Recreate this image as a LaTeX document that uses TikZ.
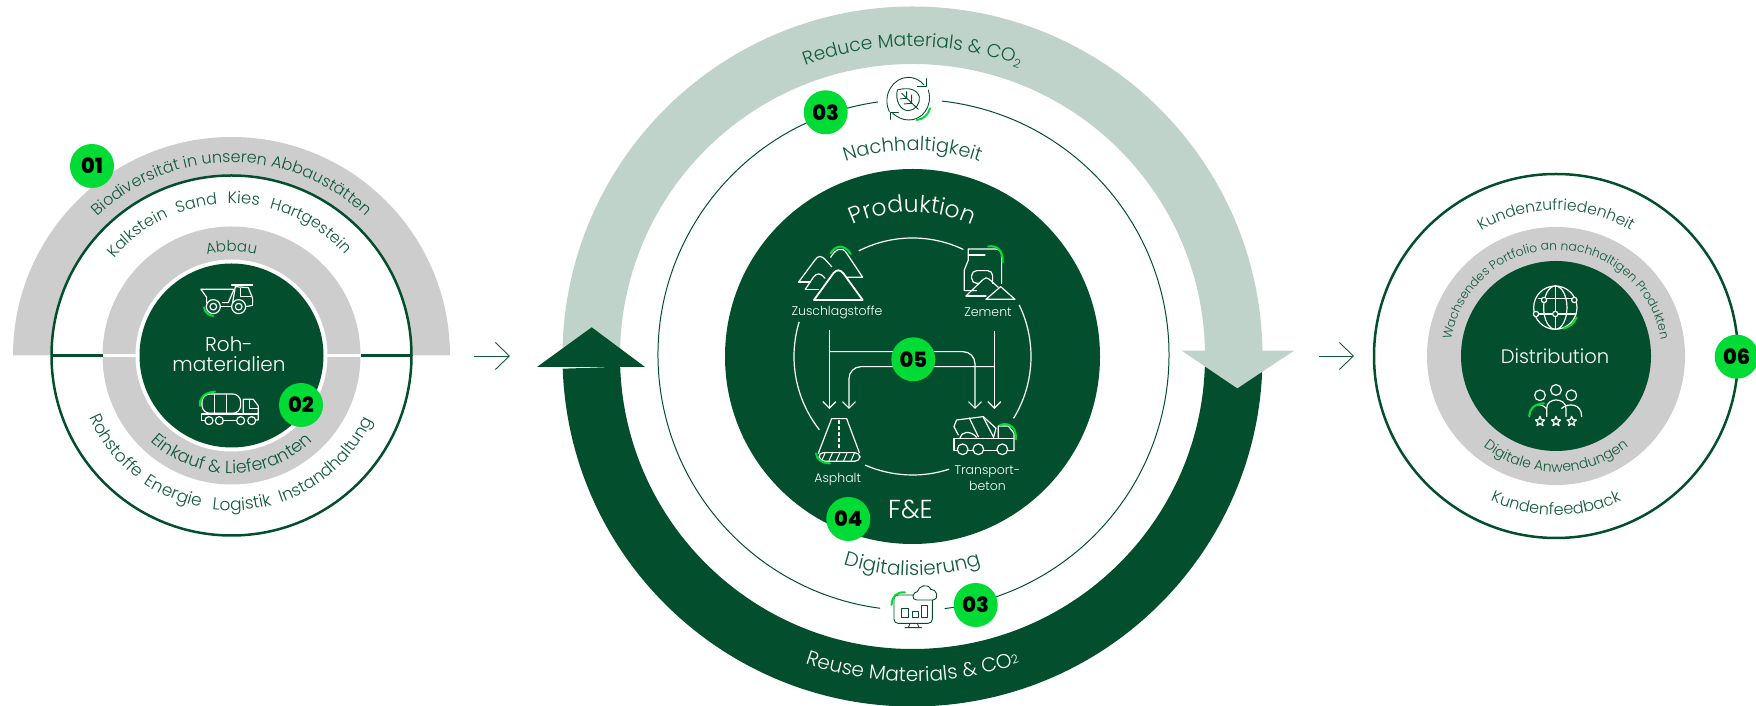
\documentclass[tikz,border=0pt]{standalone}
\usepackage{fontspec}
\setmainfont{Poppins Light}
\newfontfamily\badgefont{Poppins ExtraBold}
\usetikzlibrary{arrows.meta,calc,decorations.text}
\definecolor{dgreen}{HTML}{034F2D}
\definecolor{tgreen}{HTML}{0F5A3B}
\definecolor{lgreen}{HTML}{BFD3CA}
\definecolor{grayb}{HTML}{CDCDCD}
\definecolor{bgreen}{HTML}{00DB35}
\tikzset{
  badge/.style={circle, fill=bgreen, inner sep=0pt, minimum size=44pt, font=\badgefont\fontsize{21}{21}\selectfont},
  whitetxt/.style={text=white, align=center, inner sep=0pt},
  icon/.style={draw=white, line width=1.2pt, line cap=round, line join=round},
  iconfine/.style={draw=dgreen, line width=.9pt, line cap=round, line join=round},
  spark/.style={draw=bgreen, line width=2pt, line cap=round},
  flow/.style={draw=white, line width=1.2pt, -{Straight Barb[length=6.5pt,width=13pt]}},
  between/.style={draw=tgreen, line width=.9pt, -{Straight Barb[length=14pt,width=27pt]}}
}
% text on the upper side of a circle: colour, centre, radius, angle, size, text
\newcommand{\toptext}[6][tgreen]{\path[decorate, decoration={text along path, text align=center, text color=#1,
    text={|\fontsize{#5}{#5}\selectfont|#6}}] ($(#2)+(#4+100:#3)$) arc[start angle=#4+100, end angle=#4-100, radius=#3];}
% text on the lower side of a circle
\newcommand{\bottext}[6][tgreen]{\path[decorate, decoration={text along path, text align=center, text color=#1,
    text={|\fontsize{#5}{#5}\selectfont|#6}}] ($(#2)+(#4-100:#3)$) arc[start angle=#4-100, end angle=#4+100, radius=#3];}
\begin{document}
\begin{tikzpicture}[x=1pt, y=1pt]
  \useasboundingbox (0, 0) rectangle (1756, 706);
  \coordinate (roh) at (231.5, 350.5);
  \coordinate (prod) at (912.5, 349.5);
  \coordinate (thin) at (913.5, 351);
  \coordinate (dist) at (1556, 350);

  % left circle
  \fill[grayb] ($(roh)+(180:218.5)$) arc[start angle=180, end angle=0, radius=218.5]
    -- ($(roh)+(0:180)$) arc[start angle=0, end angle=180, radius=180] -- cycle;
  \fill[grayb] (roh) circle[radius=129];
  \draw[dgreen, line width=2.5pt] (roh) circle[radius=180];
  \draw[dgreen, line width=2.5pt] ($(roh)+(180:180)$) -- ($(roh)+(180:129)$);
  \draw[dgreen, line width=2.5pt] ($(roh)+(0:180)$) -- ($(roh)+(0:129)$);
  \draw[white, line width=2.5pt] ($(roh)+(180:129)$) -- ($(roh)+(0:129)$);
  \fill[white] (roh) circle[radius=96];
  \fill[dgreen] (roh) circle[radius=92];
  \node[whitetxt, font=\fontsize{20}{20}\selectfont] (rohlabel) at (229, 362) {Roh-};
  \node[whitetxt, font=\fontsize{20}{20}\selectfont] (matlabel) at (229, 342) {materialien};
  \toptext{roh}{193}{90}{16}{Biodiversität in unseren Abbaustätten}
  \toptext{roh}{152}{127.5}{16}{Kalkstein}
  \toptext{roh}{152}{103}{16}{Sand}
  \toptext{roh}{152}{85.5}{16.5}{Kies}
  \toptext{roh}{152}{58.5}{15.8}{Hartgestein}
  \toptext{roh}{104}{90}{15}{Abbau}
  \bottext{roh}{118}{270}{17.5}{Einkauf {\&} Lieferanten}
  \bottext{roh}{155}{218}{17}{Rohstoffe}
  \bottext{roh}{155}{247}{17}{Energie}
  \bottext{roh}{155}{274}{17}{Logistik}
  \bottext{roh}{155}{312}{16.8}{Instandhaltung}

  \begin{scope}[shift={(0, 586)}, x=.3333pt, y=-.3333pt]
    % dump truck
    \draw[icon] (603,508) -- (702,508) -- (685,548) -- (668,548);
    \draw[icon] (603,508) -- (620,532) -- (620,548);
    \draw[icon] (695,495) -- (758,495);
    \draw[icon] (706,500) -- (698,548) (706,500) -- (745,503) -- (758,535) -- (758,556) -- (738,560);
    \draw[icon] (722,505) -- (722,530) -- (752,530);
    \draw[icon] (640,560) circle[radius=21] (640,560) circle[radius=10];
    \draw[icon] (716,560) circle[radius=21] (716,560) circle[radius=10];
    \draw[icon] (661,560) -- (695,560);
    \draw[spark] (612,562) .. controls (615,578) and (625,585) .. (640,588);
    % tanker
    \draw[icon, rounded corners=8pt] (606,880) -- (606,822) -- (722,822) -- (722,880) -- cycle;
    \draw[icon] (643,822) -- (643,880) (680,822) -- (680,880);
    \draw[icon] (730,882) -- (730,838) -- (760,838) -- (775,858) -- (775,900) -- (768,900);
    \draw[icon] (748,840) -- (748,865) -- (775,865);
    \draw[icon] (605,882) -- (775,882) (605,882) -- (605,902) -- (615,902);
    \draw[icon] (670,902) -- (710,902);
    \foreach \wx in {627,658,722,755} \draw[icon] (\wx,902) circle[radius=12];
    \draw[spark] (600,858) .. controls (598,835) and (610,818) .. (645,815);
  \end{scope}

  \node[badge] (one) at (92, 540) {01};
  \node[badge] (two) at (301, 301) {02};

  % arrow left to centre
  \coordinate (from1) at (474, 350);
  \coordinate (to1) at (510, 350);
  \draw[between] (from1) -- (to1);

  % big cycle
  \fill[lgreen] ($(prod)+(180:350)$) arc[start angle=180, end angle=0, radius=350]
    -- ($(prod)+(0:292.5)$) arc[start angle=0, end angle=180, radius=292.5] -- cycle;
  \fill[dgreen] ($(prod)+(182:350)$) arc[start angle=182, end angle=360, radius=350]
    -- ($(prod)+(0:292.5)$) arc[start angle=360, end angle=182, radius=292.5] -- cycle;
  \fill[dgreen] (537, 339) -- (591.7, 378.7) -- (645, 339) -- cycle;
  \fill[lgreen] (1181.7, 355.3) -- (1294, 355.3) -- (1237.3, 317.7) -- cycle;
  \toptext{prod}{310}{90}{18.7}{Reduce Materials {\&} CO{\raisebox{-.3ex}{\fontsize{12}{12}\selectfont 2}}}
  \bottext[white]{prod}{325}{270}{20}{Reuse Materials {\&} CO{\raisebox{.1ex}{\fontsize{12}{12}\selectfont 2}}}

  % thin ring, open at the two icons
  \draw[dgreen, line width=1pt] ($(thin)+(83.6:255.5)$) arc[start angle=83.6, end angle=-83, radius=255.5];
  \draw[dgreen, line width=1pt] ($(thin)+(98:255.5)$) arc[start angle=98, end angle=262.5, radius=255.5];
  \toptext{prod}{206}{90}{19.3}{Nachhaltigkeit}
  \bottext{prod}{219}{270}{20}{Digitalisierung}

  \fill[dgreen] (prod) circle[radius=187.5];
  \toptext[white]{prod}{144.5}{90}{23.5}{Produktion}
  \node[whitetxt, font=\fontsize{26}{26}\selectfont] (fue) at (910.5, 197) {F\&E};

  % ring of segments
  \foreach \a/\b in {117/64.6, 25.8/-31.5, -72/-113.6, -141.8/-197}
    \draw[white, line width=1.2pt] ($(prod)+(\a:118.5)$) arc[start angle=\a, end angle=\b, radius=118.5];

  \node[whitetxt, font=\fontsize{12.5}{12.5}\selectfont] (aggr) at (837, 394) {Zuschlagstoffe};
  \node[whitetxt, font=\fontsize{12.5}{12.5}\selectfont] (cement) at (988, 394) {Zement};
  \node[whitetxt, font=\fontsize{12.5}{12.5}\selectfont] (asph) at (837.7, 227) {Asphalt};
  \node[whitetxt, font=\fontsize{12.5}{16}\selectfont] (ready) at (987.5, 227.5) {Transport-\\beton};

  \begin{scope}[shift={(700, 536)}, x=.3333pt, y=-.3333pt]
    \coordinate (a1) at (388,480);
    \coordinate (a2) at (388,717);
    \coordinate (b1) at (883,482);
    \coordinate (b2) at (883,717);
    \coordinate (c1) at (388,545);
    \coordinate (c2) at (825,717);
    \coordinate (d1) at (883,590);
    \coordinate (d2) at (447,717);
    \draw[flow] (a1) -- (a2);
    \draw[flow] (b1) -- (b2);
    \draw[flow, rounded corners=12pt] (c1) -- (825,545) -- (c2);
    \draw[flow, rounded corners=12pt] (d1) -- (447,590) -- (d2);
    % mountains
    \draw[icon] (392,262) .. controls (405,240) and (425,225) .. (440,250) -- (488,322) -- (440,322);
    \draw[icon] (296,336) -- (345,270) .. controls (355,255) and (365,258) .. (375,268) -- (395,290);
    \draw[icon] (296,336) -- (330,336);
    \draw[icon] (316,358) -- (340,322) .. controls (350,308) and (362,308) .. (375,325);
    \draw[icon] (316,358) -- (355,358);
    \draw[icon, line width=1.8pt] (342,390) -- (400,310) .. controls (410,298) and (420,298) .. (430,310) -- (488,390) -- cycle;
    \draw[spark] (392,250) .. controls (405,225) and (435,222) .. (452,252);
    % cement bag
    \draw[icon] (830,362) -- (793,362) -- (793,300) -- (805,270) -- (805,237) -- (885,237) .. controls (900,237) and (905,245) .. (905,262) -- (905,340);
    \draw[icon] (805,255) -- (855,255);
    \draw[icon, rounded corners=5pt] (835,340) -- (815,340) -- (815,302) -- (878,302) -- (878,340);
    \draw[icon] (798,378) -- (850,328) .. controls (855,322) and (862,322) .. (868,328) -- (895,352);
    \draw[icon] (798,378) -- (858,378);
    \draw[icon] (858,388) -- (902,350) -- (945,388) -- cycle;
    \draw[spark] (865,229) .. controls (895,225) and (910,245) .. (908,278);
    % road
    \draw[icon] (355,850) -- (395,746) -- (440,746) -- (478,848);
    \draw[icon, dashed] (417,752) -- (417,842);
    \draw[icon, rounded corners=5pt] (355,848) -- (480,848) -- (480,874) -- (360,874) -- cycle;
    \foreach \hx in {375,397,419,441,463} \draw[icon, line width=1pt] (\hx,850) -- (\hx-10,872);
    \draw[spark] (348,850) .. controls (350,868) and (365,880) .. (390,880);
    % mixer
    \draw[icon] (775,795) -- (762,770) -- (770,750) -- (850,740) -- (888,775) -- (880,805);
    \draw[icon] (808,744) -- (835,800) (850,742) -- (880,800);
    \draw[icon] (780,803) .. controls (785,785) and (810,780) .. (830,802);
    \draw[icon] (895,805) -- (895,768) -- (925,768) -- (942,790) -- (942,842) -- (925,842);
    \draw[icon] (762,806) -- (942,806);
    \draw[icon] (762,806) -- (762,842) -- (772,842) (804,842) -- (820,842) (850,842) -- (892,842);
    \foreach \wx in {788,835,907} \draw[icon] (\wx,838) circle[radius=16];
    \draw[spark] (900,765) .. controls (930,755) and (950,775) .. (948,808);
  \end{scope}

  \node[badge] (five) at (913.3, 346.7) {05};
  \node[badge] (four) at (848.3, 187) {04};
  \node[badge] (threea) at (825.7, 593.7) {03};
  \node[badge] (threeb) at (975.7, 101) {03};

  % sustainability icon
  \begin{scope}[shift={(760, 706)}, x=.3333pt, y=-.3333pt]
    \draw[iconfine] (388,335) .. controls (365,285) and (400,232) .. (445,232) .. controls (462,232) and (480,240) .. (492,255);
    \draw[iconfine] (498,236) -- (498,258) -- (472,258);
    \draw[iconfine] (505,270) .. controls (520,320) and (485,362) .. (445,360) .. controls (428,360) and (412,352) .. (398,340);
    \draw[iconfine] (392,358) -- (392,336) -- (415,336);
    \draw[iconfine] (412,270) .. controls (440,262) and (470,265) .. (478,290) .. controls (482,310) and (465,332) .. (445,332) .. controls (420,332) and (405,300) .. (412,270);
    \draw[iconfine] (425,280) -- (475,328) (440,295) -- (440,275) (440,295) -- (420,297) (455,310) -- (455,285) (455,310) -- (432,312);
    \draw[spark] (470,360) .. controls (490,358) and (505,345) .. (510,325);
  \end{scope}

  % digital icon
  \begin{scope}[shift={(760, 166)}, x=.3333pt, y=-.3333pt]
    \draw[iconfine, rounded corners=4pt] (460,165) -- (402,165) -- (402,250) -- (517,250) -- (517,180);
    \draw[iconfine] (425,232) -- (425,205) -- (445,205) -- (445,232) -- cycle;
    \draw[iconfine] (458,232) -- (458,215) -- (475,215) -- (475,232) -- cycle;
    \draw[iconfine] (485,232) -- (485,195) -- (502,195) -- (502,232) -- cycle;
    \draw[iconfine] (450,250) -- (445,263) (472,250) -- (477,263) (435,263) -- (485,263);
    \draw[iconfine, fill=white] (470,180) .. controls (452,180) and (458,155) .. (472,155) .. controls (475,138) and (505,128) .. (512,148) .. controls (530,145) and (540,178) .. (518,180) -- cycle;
    \draw[spark] (395,195) .. controls (395,170) and (410,155) .. (435,157);
  \end{scope}

  % arrow centre to right
  \coordinate (from2) at (1319, 350);
  \coordinate (to2) at (1354, 350);
  \draw[between] (from2) -- (to2);

  % right circle
  \draw[dgreen, line width=2.5pt] (dist) circle[radius=182];
  \fill[grayb] (dist) circle[radius=129];
  \fill[dgreen] (dist) circle[radius=95];
  \node[whitetxt, font=\fontsize{19.5}{19.5}\selectfont] (distlabel) at (1555, 350) {Distribution};
  \toptext{dist}{146}{90}{15.5}{Kundenzufriedenheit}
  \toptext{dist}{106}{90}{12.3}{Wachsendes Portfolio an nachhaltigen Produkten}
  \bottext{dist}{116}{270}{14}{Digitale Anwendungen}
  \bottext{dist}{159}{270}{16}{Kundenfeedback}

  \begin{scope}[shift={(1340, 546)}, x=.3333pt, y=-.3333pt]
    % globe
    \draw[icon] (646,443) circle[radius=65];
    \draw[icon] (646,443) ellipse[x radius=35, y radius=65];
    \draw[icon] (646,378) -- (646,508);
    \draw[icon] (596,415) -- (696,415) (583,462) -- (708,462);
    \foreach \gx/\gy in {612/420, 703/420, 588/462, 646/462}
      \draw[icon, fill=dgreen] (\gx,\gy) circle[radius=8];
    \draw[spark] (670,506) .. controls (690,500) and (703,490) .. (710,472);
    % people
    \foreach \px/\py in {600/706, 648/690, 694/706}
      \draw[icon] (\px,\py) circle[radius=16];
    \draw[icon] (620,770) -- (620,745) .. controls (620,728) and (635,720) .. (648,720) .. controls (662,720) and (678,728) .. (678,745) -- (678,770);
    \draw[icon] (618,745) .. controls (605,728) and (570,728) .. (568,770);
    \draw[icon] (665,745) .. controls (685,728) and (725,730) .. (725,770);
    \foreach \sx in {600,648,695}
      \draw[icon] (\sx,769) -- (\sx+4,779) -- (\sx+14,780) -- (\sx+6,787) -- (\sx+9,797) -- (\sx,791) -- (\sx-9,797) -- (\sx-6,787) -- (\sx-14,780) -- (\sx-4,779) -- cycle;
    \draw[spark] (568,768) .. controls (568,745) and (585,732) .. (612,730);
  \end{scope}

  \node[badge] (six) at (1736.7, 349.3) {06};
\end{tikzpicture}
\end{document}
